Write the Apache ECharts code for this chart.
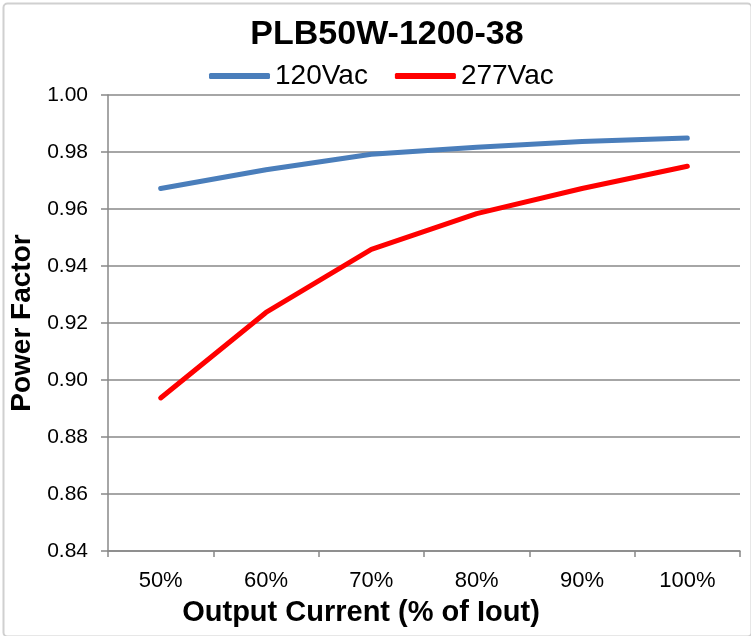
<!DOCTYPE html>
<html><head><meta charset="utf-8">
<script src="https://cdn.jsdelivr.net/npm/echarts@6/dist/echarts.min.js"></script>
<style>html,body{margin:0;padding:0;background:#fff}#c{width:751px;height:636px}</style>
</head><body><div id="c"></div>
<script>
const categories = ['50%', '60%', '70%', '80%', '90%', '100%'];
const v120 = [0.9672, 0.9738, 0.9792, 0.9817, 0.9837, 0.9849];
const v277 = [0.8937, 0.9237, 0.9458, 0.9584, 0.9672, 0.9750];
const chart = echarts.init(document.getElementById('c'), null, {renderer: 'canvas'});
const sans = "'Liberation Sans', Arial, sans-serif";
chart.setOption({
  backgroundColor: '#fff',
  animation: false,
  graphic: [{type: 'rect', left: 1, top: 1, shape: {width: 748, height: 633, r: 4}, style: {fill: 'none', stroke: '#d0d0d0', lineWidth: 2}, z: -1}],
  title: {text: 'PLB50W-1200-38', left: 382, textAlign: 'center', top: 13,
    textStyle: {fontFamily: sans, fontWeight: 'bold', fontSize: 34, color: '#000'}},
  legend: {top: 57, left: 204, itemWidth: 61, itemHeight: 6, itemGap: 27,
    icon: 'roundRect',
    textStyle: {fontFamily: sans, fontSize: 28, color: '#000'},
    data: ['120Vac', '277Vac']},
  grid: {left: 108, right: 11, top: 95, bottom: 85, containLabel: false},
  xAxis: {type: 'category', data: categories, boundaryGap: true,
    name: 'Output Current (% of Iout)', nameLocation: 'middle', nameGap: 47,
    nameTextStyle: {fontFamily: sans, fontWeight: 'bold', fontSize: 29, color: '#000', padding: [0, 126, 0, 0]},
    axisLine: {lineStyle: {color: '#888', width: 1.5}},
    axisTick: {show: true, length: 6, lineStyle: {color: '#888', width: 1.5}},
    axisLabel: {fontFamily: sans, fontSize: 22, color: '#000', margin: 19},
    splitLine: {show: false}},
  yAxis: {type: 'value', min: 0.84, max: 1.0, interval: 0.02,
    name: 'Power Factor', nameLocation: 'middle', nameGap: 64, nameRotate: 90,
    nameTextStyle: {fontFamily: sans, fontWeight: 'bold', fontSize: 28, color: '#000'},
    axisLine: {show: true, lineStyle: {color: '#888', width: 1.5}},
    axisTick: {show: true, length: 7, lineStyle: {color: '#888', width: 1.5}},
    axisLabel: {fontFamily: sans, fontSize: 21, color: '#000', margin: 20, formatter: v => v.toFixed(2)},
    splitLine: {show: true, lineStyle: {color: '#888', width: 1.5}}},
  series: [
    {name: '120Vac', type: 'line', data: v120, showSymbol: false, symbol: 'none',
      lineStyle: {color: '#4a7ebb', width: 5, cap: 'round', join: 'round'}, itemStyle: {color: '#4a7ebb'}},
    {name: '277Vac', type: 'line', data: v277, showSymbol: false, symbol: 'none',
      lineStyle: {color: '#ff0000', width: 5, cap: 'round', join: 'round'}, itemStyle: {color: '#ff0000'}}
  ]
});
</script></body></html>
